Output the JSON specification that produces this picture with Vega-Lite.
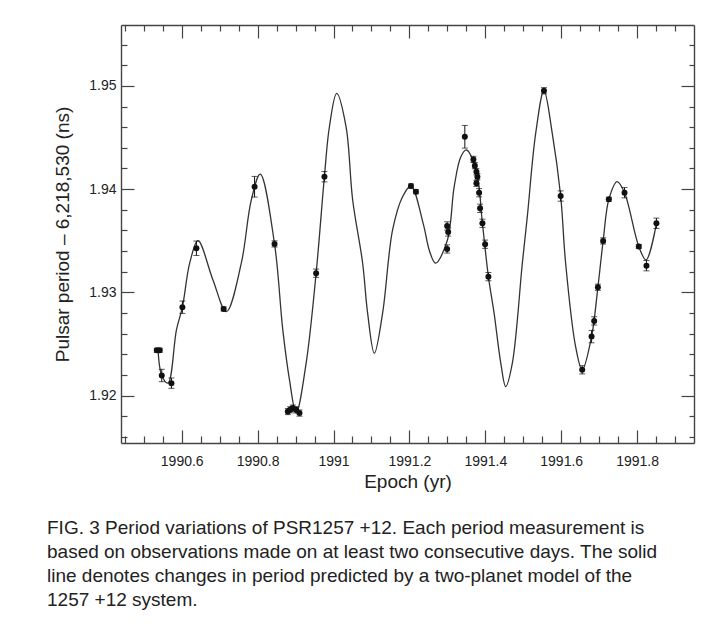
{
  "$schema": "https://vega.github.io/schema/vega-lite/v6.json",
  "width": 573,
  "height": 418,
  "autosize": {"type": "none"},
  "padding": {"left": 121, "top": 25, "right": 24, "bottom": 191},
  "background": "white",
  "config": {
    "view": {"stroke": null},
    "font": "Liberation Sans",
    "axis": {
      "domainColor": "#444",
      "domainWidth": 1.4,
      "tickColor": "#444",
      "tickWidth": 1.2,
      "grid": false,
      "labelFont": "Liberation Sans",
      "labelFontSize": 14,
      "labelColor": "#222",
      "titleFont": "Liberation Sans",
      "titleFontSize": 19,
      "titleFontWeight": "normal",
      "titleColor": "#222"
    }
  },
  "title": {
    "text": [
      "FIG. 3 Period variations of PSR1257 +12. Each period measurement is",
      "based on observations made on at least two consecutive days. The solid",
      "line denotes changes in period predicted by a two-planet model of the",
      "1257 +12 system."
    ],
    "orient": "bottom",
    "anchor": "start",
    "frame": "group",
    "dx": -74,
    "offset": 28,
    "font": "Liberation Sans",
    "fontSize": 19,
    "fontWeight": "normal",
    "lineHeight": 24,
    "color": "#222"
  },
  "datasets": {
    "model": [
      {"epoch": 1990.5377, "period": 1.92436},
      {"epoch": 1990.5474, "period": 1.92194},
      {"epoch": 1990.5640, "period": 1.92120},
      {"epoch": 1990.5861, "period": 1.92636},
      {"epoch": 1990.6018, "period": 1.92856},
      {"epoch": 1990.6210, "period": 1.93282},
      {"epoch": 1990.6429, "period": 1.93500},
      {"epoch": 1990.6823, "period": 1.93120},
      {"epoch": 1990.7176, "period": 1.92813},
      {"epoch": 1990.7570, "period": 1.93282},
      {"epoch": 1990.7833, "period": 1.93894},
      {"epoch": 1990.8070, "period": 1.94146},
      {"epoch": 1990.8446, "period": 1.93469},
      {"epoch": 1990.8664, "period": 1.92636},
      {"epoch": 1990.8840, "period": 1.92152},
      {"epoch": 1990.9016, "period": 1.91830},
      {"epoch": 1990.9279, "period": 1.92314},
      {"epoch": 1990.9542, "period": 1.93185},
      {"epoch": 1990.9760, "period": 1.94120},
      {"epoch": 1990.9892, "period": 1.94604},
      {"epoch": 1991.0084, "period": 1.94927},
      {"epoch": 1991.0331, "period": 1.94604},
      {"epoch": 1991.0505, "period": 1.93894},
      {"epoch": 1991.0768, "period": 1.93282},
      {"epoch": 1991.0899, "period": 1.92798},
      {"epoch": 1991.1076, "period": 1.92410},
      {"epoch": 1991.1294, "period": 1.92798},
      {"epoch": 1991.1557, "period": 1.93604},
      {"epoch": 1991.1820, "period": 1.93926},
      {"epoch": 1991.2041, "period": 1.94030},
      {"epoch": 1991.2367, "period": 1.93660},
      {"epoch": 1991.2529, "period": 1.93401},
      {"epoch": 1991.2690, "period": 1.93282},
      {"epoch": 1991.3003, "period": 1.93507},
      {"epoch": 1991.3180, "period": 1.94023},
      {"epoch": 1991.3356, "period": 1.94314},
      {"epoch": 1991.3503, "period": 1.94379},
      {"epoch": 1991.3766, "period": 1.94168},
      {"epoch": 1991.3924, "period": 1.93669},
      {"epoch": 1991.4082, "period": 1.93152},
      {"epoch": 1991.4232, "period": 1.92798},
      {"epoch": 1991.4408, "period": 1.92314},
      {"epoch": 1991.4539, "period": 1.92087},
      {"epoch": 1991.4713, "period": 1.92314},
      {"epoch": 1991.4976, "period": 1.93282},
      {"epoch": 1991.5107, "period": 1.93733},
      {"epoch": 1991.5328, "period": 1.94540},
      {"epoch": 1991.5546, "period": 1.94953},
      {"epoch": 1991.5765, "period": 1.94540},
      {"epoch": 1991.5986, "period": 1.93933},
      {"epoch": 1991.6117, "period": 1.93282},
      {"epoch": 1991.6380, "period": 1.92474},
      {"epoch": 1991.6554, "period": 1.92249},
      {"epoch": 1991.6801, "period": 1.92571},
      {"epoch": 1991.6967, "period": 1.93049},
      {"epoch": 1991.7106, "period": 1.93498},
      {"epoch": 1991.7256, "period": 1.93901},
      {"epoch": 1991.7474, "period": 1.94072},
      {"epoch": 1991.7669, "period": 1.93965},
      {"epoch": 1991.8045, "period": 1.93444},
      {"epoch": 1991.8237, "period": 1.93314},
      {"epoch": 1991.8510, "period": 1.93669}
    ],
    "obs": [
      {"epoch": 1990.5343, "period": 1.92438, "err": 0.0002},
      {"epoch": 1990.5421, "period": 1.92438, "err": 0.0002},
      {"epoch": 1990.5474, "period": 1.92194, "err": 0.0006},
      {"epoch": 1990.5729, "period": 1.92120, "err": 0.0005},
      {"epoch": 1990.6018, "period": 1.92856, "err": 0.0006},
      {"epoch": 1990.6387, "period": 1.93427, "err": 0.0007},
      {"epoch": 1990.7105, "period": 1.92839, "err": 0.0002},
      {"epoch": 1990.7920, "period": 1.94023, "err": 0.0010},
      {"epoch": 1990.8446, "period": 1.93469, "err": 0.0003},
      {"epoch": 1990.8796, "period": 1.91845, "err": 0.0003},
      {"epoch": 1990.8859, "period": 1.91862, "err": 0.0003},
      {"epoch": 1990.8927, "period": 1.91878, "err": 0.0003},
      {"epoch": 1990.9016, "period": 1.91862, "err": 0.0003},
      {"epoch": 1990.9103, "period": 1.91830, "err": 0.0003},
      {"epoch": 1990.9542, "period": 1.93185, "err": 0.0004},
      {"epoch": 1990.9761, "period": 1.94120, "err": 0.0005},
      {"epoch": 1991.2041, "period": 1.94030, "err": 0.0002},
      {"epoch": 1991.2172, "period": 1.93975, "err": 0.0002},
      {"epoch": 1991.2995, "period": 1.93643, "err": 0.0004},
      {"epoch": 1991.3022, "period": 1.93585, "err": 0.0004},
      {"epoch": 1991.2995, "period": 1.93420, "err": 0.0004},
      {"epoch": 1991.3461, "period": 1.94507, "err": 0.0011},
      {"epoch": 1991.3687, "period": 1.94288, "err": 0.0003},
      {"epoch": 1991.3724, "period": 1.94227, "err": 0.0003},
      {"epoch": 1991.3766, "period": 1.94168, "err": 0.0003},
      {"epoch": 1991.3792, "period": 1.94120, "err": 0.0003},
      {"epoch": 1991.3766, "period": 1.94056, "err": 0.0003},
      {"epoch": 1991.3837, "period": 1.93965, "err": 0.0004},
      {"epoch": 1991.3863, "period": 1.93814, "err": 0.0004},
      {"epoch": 1991.3924, "period": 1.93669, "err": 0.0004},
      {"epoch": 1991.3995, "period": 1.93466, "err": 0.0004},
      {"epoch": 1991.4082, "period": 1.93152, "err": 0.0004},
      {"epoch": 1991.5546, "period": 1.94953, "err": 0.0003},
      {"epoch": 1991.5986, "period": 1.93933, "err": 0.0005},
      {"epoch": 1991.6554, "period": 1.92249, "err": 0.0004},
      {"epoch": 1991.6801, "period": 1.92571, "err": 0.0006},
      {"epoch": 1991.6869, "period": 1.92723, "err": 0.0004},
      {"epoch": 1991.6967, "period": 1.93049, "err": 0.0003},
      {"epoch": 1991.7106, "period": 1.93498, "err": 0.0003},
      {"epoch": 1991.7256, "period": 1.93901, "err": 0.0002},
      {"epoch": 1991.7669, "period": 1.93965, "err": 0.0005},
      {"epoch": 1991.8045, "period": 1.93444, "err": 0.0002},
      {"epoch": 1991.8247, "period": 1.93258, "err": 0.0005},
      {"epoch": 1991.8510, "period": 1.93669, "err": 0.0005}
    ]
  },
  "resolve": {"axis": {"x": "independent", "y": "independent"}},
  "layer": [
    {
      "data": {"name": "model"},
      "mark": {"type": "line", "interpolate": "catmull-rom", "color": "#333", "strokeWidth": 1.3},
      "encoding": {
        "x": {
          "field": "epoch", "type": "quantitative",
          "scale": {"domain": [1990.44, 1991.95], "nice": false, "zero": false},
          "axis": {
            "orient": "bottom",
            "title": "Epoch (yr)",
            "titlePadding": -2,
            "values": [1990.45, 1990.5, 1990.55, 1990.6, 1990.65, 1990.7, 1990.75, 1990.8, 1990.85, 1990.9, 1990.95, 1991, 1991.05, 1991.1, 1991.15, 1991.2, 1991.25, 1991.3, 1991.35, 1991.4, 1991.45, 1991.5, 1991.55, 1991.6, 1991.65, 1991.7, 1991.75, 1991.8, 1991.85, 1991.9],
            "labelExpr": "abs(datum.value * 5 - round(datum.value * 5)) < 0.001 ? toString(round(datum.value * 10) / 10) : ''",
            "tickSize": {"condition": {"test": "abs(datum.value * 5 - round(datum.value * 5)) < 0.001", "value": -13}, "value": -7},
            "labelPadding": 24,
            "labelFlush": false,
            "labelOverlap": false
          }
        },
        "y": {
          "field": "period", "type": "quantitative",
          "scale": {"domain": [1.9154, 1.9559], "nice": false, "zero": false},
          "axis": {
            "orient": "left",
            "title": "Pulsar period – 6,218,530 (ns)",
            "titlePadding": 16,
            "values": [1.916, 1.918, 1.92, 1.922, 1.924, 1.926, 1.928, 1.93, 1.932, 1.934, 1.936, 1.938, 1.94, 1.942, 1.944, 1.946, 1.948, 1.95, 1.952, 1.954],
            "labelExpr": "abs(datum.value * 100 - round(datum.value * 100)) < 0.001 ? format(datum.value, '.2f') : ''",
            "tickSize": {"condition": {"test": "abs(datum.value * 100 - round(datum.value * 100)) < 0.001", "value": -13}, "value": -6},
            "labelPadding": 18,
            "labelFlush": false,
            "labelOverlap": false
          }
        }
      }
    },
    {
      "data": {"name": "obs"},
      "mark": {"type": "errorbar", "ticks": {"size": 6, "color": "#111"}, "color": "#111", "thickness": 1},
      "encoding": {
        "x": {"field": "epoch", "type": "quantitative", "axis": null},
        "y": {"field": "period", "type": "quantitative", "axis": null},
        "yError": {"field": "err"}
      }
    },
    {
      "data": {"name": "obs"},
      "mark": {"type": "point", "filled": true, "color": "#111", "size": 36, "opacity": 1},
      "encoding": {
        "x": {
          "field": "epoch", "type": "quantitative",
          "axis": {
            "orient": "top",
            "title": null,
            "labels": false,
            "values": [1990.45, 1990.5, 1990.55, 1990.6, 1990.65, 1990.7, 1990.75, 1990.8, 1990.85, 1990.9, 1990.95, 1991, 1991.05, 1991.1, 1991.15, 1991.2, 1991.25, 1991.3, 1991.35, 1991.4, 1991.45, 1991.5, 1991.55, 1991.6, 1991.65, 1991.7, 1991.75, 1991.8, 1991.85, 1991.9],
            "tickSize": {"condition": {"test": "abs(datum.value * 5 - round(datum.value * 5)) < 0.001", "value": -13}, "value": -6}
          }
        },
        "y": {
          "field": "period", "type": "quantitative",
          "axis": {
            "orient": "right",
            "title": null,
            "labels": false,
            "values": [1.916, 1.918, 1.92, 1.922, 1.924, 1.926, 1.928, 1.93, 1.932, 1.934, 1.936, 1.938, 1.94, 1.942, 1.944, 1.946, 1.948, 1.95, 1.952, 1.954],
            "tickSize": {"condition": {"test": "abs(datum.value * 100 - round(datum.value * 100)) < 0.001", "value": -13}, "value": -5}
          }
        }
      }
    }
  ]
}
